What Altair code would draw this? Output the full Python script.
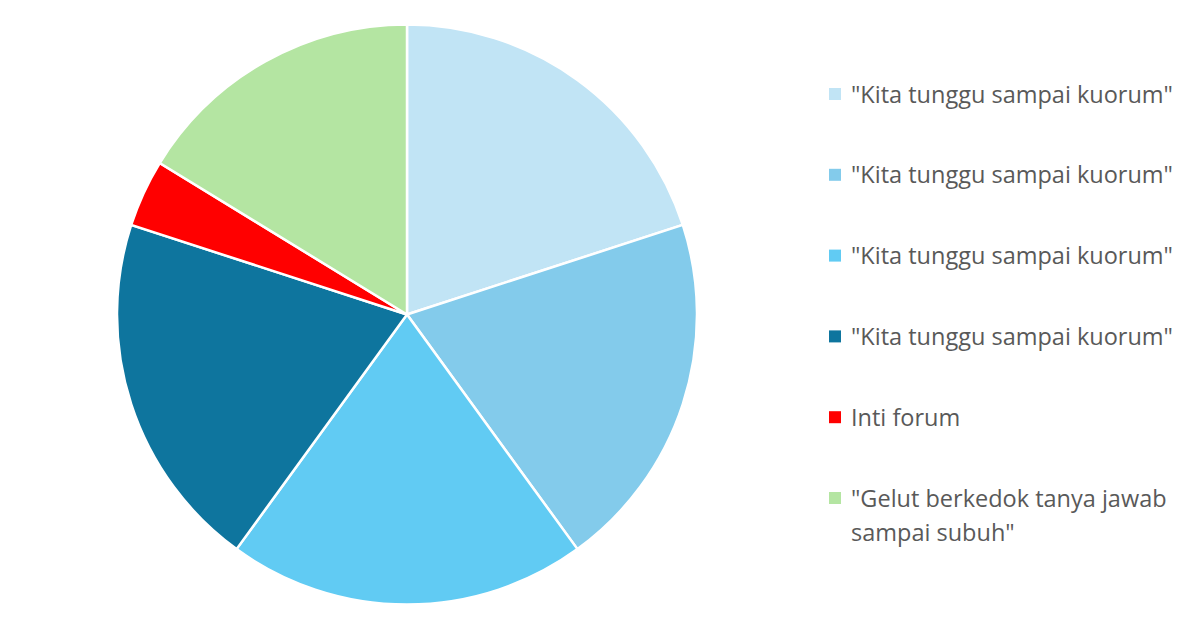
import altair as alt
import pandas as pd

keys = ["k1", "k2", "k3", "k4", "k5", "k6"]
labels = [
    '"Kita tunggu sampai kuorum"',
    '"Kita tunggu sampai kuorum"',
    '"Kita tunggu sampai kuorum"',
    '"Kita tunggu sampai kuorum"',
    "Inti forum",
    '"Gelut berkedok tanya jawab\nsampai subuh"',
]
values = [16, 16, 16, 16, 3, 13]
colors = ["#C1E4F5", "#83CBEB", "#61CBF3", "#0E759E", "#FF0000", "#B4E5A2"]

df = pd.DataFrame({"key": keys, "label": labels, "value": values, "idx": list(range(6))})

color_scale = alt.Scale(domain=keys, range=colors)

pie = alt.Chart(df).mark_arc(radius=290, stroke="white", strokeWidth=2.5).encode(
    theta=alt.Theta("value:Q", stack=True),
    order=alt.Order("idx:Q"),
    color=alt.Color("key:N", scale=color_scale, legend=None),
    x=alt.value(399),
    y=alt.value(306.5),
)

yscale = alt.Scale(type="point", domain=keys, range=[86, 490], padding=0)

squares = alt.Chart(df).mark_square(size=144, opacity=1).encode(
    x=alt.value(827),
    y=alt.Y("key:N", scale=yscale, axis=None),
    color=alt.Color("key:N", scale=color_scale, legend=None),
)

texts = alt.Chart(df).mark_text(
    align="left", baseline="alphabetic", dy=8.5, fontSize=23.5, font="Open Sans",
    color="#595959", lineBreak="\n", lineHeight=34,
).encode(
    x=alt.value(843),
    y=alt.Y("key:N", scale=yscale, axis=None),
    text="label:N",
)

chart = alt.layer(pie, squares, texts).properties(
    width=1184, height=613,
    autosize=alt.AutoSizeParams(type="none"),
    padding=0,
).configure_view(stroke=None)

chart.save("out.html", embed_options={"renderer": "svg", "actions": False})
